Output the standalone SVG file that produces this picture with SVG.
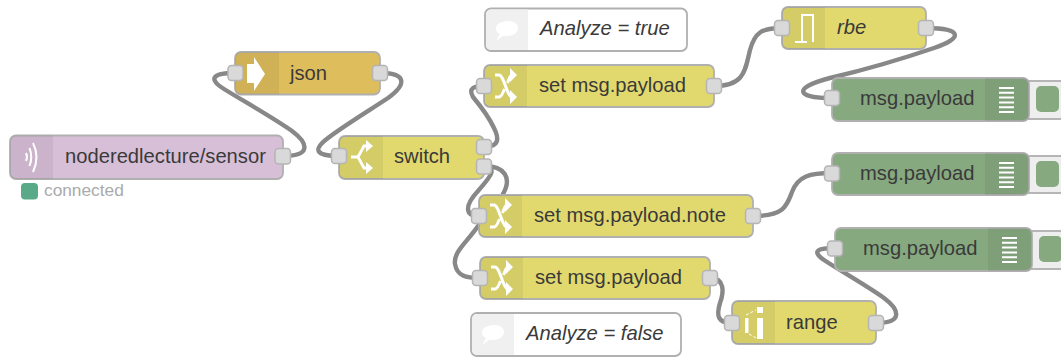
<svg xmlns="http://www.w3.org/2000/svg" width="1061" height="358" viewBox="0 0 1061 358">
<style>
text{font-family:"Liberation Sans",Arial,sans-serif;font-size:20.2px;fill:#3a3a3a}
.i{font-style:italic}
.n{stroke:#b0b0b0;stroke-width:1.8}
.d{fill:#000;fill-opacity:.06}
.p{fill:#d9d9d9;stroke:#b5b5b5;stroke-width:1.5}
.w{fill:none;stroke:#888;stroke-width:4.4;stroke-linecap:round}
.ic{fill:#fff;stroke:none}
.il{fill:none;stroke:#fff;stroke-width:2}
.y{fill:#e2d96e}
.g{fill:#87a980}
.c{fill:#fff}
.b{fill:#eee;stroke:#b5b5b5;stroke-width:2}
</style>
<defs>
<g id="shuffle">
<path class="il" style="stroke-width:3" d="M-11-11H-7C-2-11 1 11 6 11H8M-11 11H-7C-5 11-3 7-1.500 3M1.500-3C3-7 4-11 6-11H8"/>
<path class="ic" d="M4-18L11-11L4-4ZM4 4L11 11L4 18Z"/>
</g>
<path id="list" class="il" d="M-7.500-12H7.500M-7.500-7.200H7.500M-7.500-2.400H7.500M-7.500 2.400H7.500M-7.500 7.200H7.500M-7.500 12H7.500"/>
<path id="bubble" d="M-11-3C-11-7-5-10 1-10C7-10 11-7 11-3C11 2 6 5 0 5C-2 5-3 5-4 5L-11 10L-7 3C-10 2-11 0-11-3Z" fill="#fff"/>
</defs>
<g id="connectors">
<path class="w" d="M283 156C312 156 308 143 292 131C272 117 245 102 224 89C208 79 212 73 235 73"/>
<path class="w" d="M380 73C408 73 406 85 388 98C370 110 345 125 328 138C312 150 316 156 339 156"/>
<path class="w" d="M484 147C500 147 499 138 494 128C488 115 478 103 473 97C468 88 474 86 484 86"/>
<path class="w" d="M484 166C505 166 512 178 503 194"/>
<path class="w" d="M484 166C500 168 487 180 478 191C464 206 465 216 479 216"/>
<path class="w" d="M478 226C468 241 453 252 455 264C457 276 466 278 480 278"/>
<path class="w" d="M714 86C745 86 745 70 750 50C755 32 762 28 782 28"/>
<path class="w" d="M926 28C962 28 964 38 934 48C899 60 864 70 830 78C792 88 796 98 832 98"/>
<path class="w" d="M753 216C785 216 787 205 792 192C798 176 810 173 832 173"/>
<path class="w" d="M710 278C725 278 724 292 720 303C716 316 718 323 732 323"/>
<path class="w" d="M876 323C903 323 900 310 884 298C864 284 839 270 824 260C810 250 820 248 835 248"/>
</g>
<g id="sensor">
<rect class="n" x="10" y="135.500" width="273" height="43.500" rx="6" fill="#d8bfd8"/>
<path class="d" d="M16 135.500H53V179H16A6 6 0 0 1 10 173V141.500A6 6 0 0 1 16 135.500Z"/>
<path class="il" d="M26 153Q28 157 26 161M29.500 148Q33 157 29.500 166M33 143Q40 157 33 172"/>
<rect class="p" x="275" y="148.500" width="15.500" height="15.500" rx="3.500"/>
<text x="65" y="163">noderedlecture/sensor</text>
<rect x="21" y="183" width="17" height="16.500" rx="4" fill="#5aaa8a"/>
<text x="44" y="195.500" style="font-size:17.300px;fill:#aaa">connected</text>
</g>
<g id="json">
<rect class="n" x="235" y="52" width="145" height="42.500" rx="6" fill="#debd5c"/>
<path class="d" d="M241 52H279V94.500H241A6 6 0 0 1 235 88.500V58A6 6 0 0 1 241 52Z"/>
<path class="ic" d="M247 64H254V57L265 74L254 91V83H247Z"/>
<rect class="p" x="228" y="65.500" width="15" height="15" rx="3.500"/>
<rect class="p" x="372.500" y="65.500" width="15" height="15" rx="3.500"/>
<text x="290" y="80">json</text>
</g>
<g id="switch">
<rect class="n y" x="339" y="136" width="145" height="43" rx="6"/>
<path class="d" d="M345 136H383V179H345A6 6 0 0 1 339 173V142A6 6 0 0 1 345 136Z"/>
<path class="il" style="stroke-width:2.800" d="M351 157H358L364 146H368M358 157L364 168H368"/>
<path class="ic" d="M366 140L373 146L366 152ZM366 162L373 168L366 174Z"/>
<rect class="p" x="331.500" y="148.500" width="15" height="15" rx="3.500"/>
<rect class="p" x="476.500" y="139.500" width="15" height="15" rx="3.500"/>
<rect class="p" x="476.500" y="159" width="15" height="15" rx="3.500"/>
<text x="394" y="163">switch</text>
</g>
<g id="comment-true">
<rect class="n c" x="485" y="8.500" width="202" height="42.500" rx="6"/>
<path d="M491 9.500H528V50H491A5 5 0 0 1 486 45V14.500A5 5 0 0 1 491 9.500Z" fill="#f0f0f0"/>
<use href="#bubble" x="507" y="31"/>
<text class="i" x="540" y="35">Analyze = true</text>
</g>
<g id="set-payload-1">
<rect class="n y" x="484" y="65" width="230" height="42" rx="6"/>
<path class="d" d="M490 65H527V107H490A6 6 0 0 1 484 101V71A6 6 0 0 1 490 65Z"/>
<use href="#shuffle" x="506" y="86"/>
<rect class="p" x="476.500" y="78.500" width="15" height="15" rx="3.500"/>
<rect class="p" x="706.500" y="78.500" width="15" height="15" rx="3.500"/>
<text x="539" y="92">set msg.payload</text>
</g>
<g id="rbe">
<rect class="n y" x="782" y="7" width="144" height="42" rx="6"/>
<path class="d" d="M788 7H825V49H788A6 6 0 0 1 782 43V13A6 6 0 0 1 788 7Z"/>
<path class="il" d="M795 42H807M802 42V15H813V42"/>
<rect class="p" x="774.500" y="20.500" width="15" height="15" rx="3.500"/>
<rect class="p" x="918.500" y="20.500" width="15" height="15" rx="3.500"/>
<text class="i" x="837" y="34">rbe</text>
</g>
<g id="debug-1">
<rect class="b" x="1028" y="81" width="34" height="38"/>
<rect class="g" x="1036" y="86" width="23" height="26" rx="5"/>
<rect class="n g" x="832" y="78" width="197" height="43" rx="6"/>
<path class="d" d="M985 78H1023A6 6 0 0 1 1029 84V115A6 6 0 0 1 1023 121H985Z"/>
<use href="#list" x="1006.500" y="100"/>
<rect class="p" x="824.500" y="90.500" width="15" height="15" rx="3.500"/>
<text x="860" y="105">msg.payload</text>
</g>
<g id="debug-2">
<rect class="b" x="1028" y="156" width="34" height="37"/>
<rect class="g" x="1036" y="161" width="23" height="26" rx="5"/>
<rect class="n g" x="832" y="153" width="197" height="42" rx="6"/>
<path class="d" d="M985 153H1023A6 6 0 0 1 1029 159V189A6 6 0 0 1 1023 195H985Z"/>
<use href="#list" x="1006.500" y="175"/>
<rect class="p" x="824.500" y="166" width="15" height="15" rx="3.500"/>
<text x="860" y="180">msg.payload</text>
</g>
<g id="debug-3">
<rect class="b" x="1031" y="231" width="31" height="38"/>
<rect class="g" x="1039" y="236" width="23" height="26" rx="5"/>
<rect class="n g" x="835" y="228" width="197" height="43" rx="6"/>
<path class="d" d="M988 228H1026A6 6 0 0 1 1032 234V265A6 6 0 0 1 1026 271H988Z"/>
<use href="#list" x="1009.500" y="250"/>
<rect class="p" x="827.500" y="241" width="15" height="15" rx="3.500"/>
<text x="863" y="255">msg.payload</text>
</g>
<g id="set-note">
<rect class="n y" x="479" y="195" width="274" height="42" rx="6"/>
<path class="d" d="M485 195H522V237H485A6 6 0 0 1 479 231V201A6 6 0 0 1 485 195Z"/>
<use href="#shuffle" x="501" y="216"/>
<rect class="p" x="471.500" y="208.500" width="15" height="15" rx="3.500"/>
<rect class="p" x="745.500" y="208.500" width="15" height="15" rx="3.500"/>
<text x="534" y="222">set msg.payload.note</text>
</g>
<g id="set-payload-2">
<rect class="n y" x="480" y="257" width="230" height="42" rx="6"/>
<path class="d" d="M486 257H523V299H486A6 6 0 0 1 480 293V263A6 6 0 0 1 486 257Z"/>
<use href="#shuffle" x="502" y="278"/>
<rect class="p" x="472.500" y="270.500" width="15" height="15" rx="3.500"/>
<rect class="p" x="702.500" y="270.500" width="15" height="15" rx="3.500"/>
<text x="535" y="284">set msg.payload</text>
</g>
<g id="range">
<rect class="n y" x="732" y="301" width="144" height="43" rx="6"/>
<path class="d" d="M738 301H775V344H738A6 6 0 0 1 732 338V307A6 6 0 0 1 738 301Z"/>
<path class="ic" d="M745 318H748.500V333H745ZM757 318H763V339H757ZM757 307H763V313H757Z"/>
<path d="M746 315L756 310M749 334L756 338" stroke="#fff" stroke-width="1" stroke-dasharray="3 2"/>
<rect class="p" x="724.500" y="315.500" width="15" height="15" rx="3.500"/>
<rect class="p" x="868.500" y="315.500" width="15" height="15" rx="3.500"/>
<text x="786" y="329">range</text>
</g>
<g id="comment-false">
<rect class="n c" x="471" y="313" width="210" height="43" rx="6"/>
<path d="M477 314H514V355H477A5 5 0 0 1 472 350V319A5 5 0 0 1 477 314Z" fill="#f0f0f0"/>
<use href="#bubble" x="493" y="335"/>
<text class="i" x="526" y="340">Analyze = false</text>
</g>
</svg>
